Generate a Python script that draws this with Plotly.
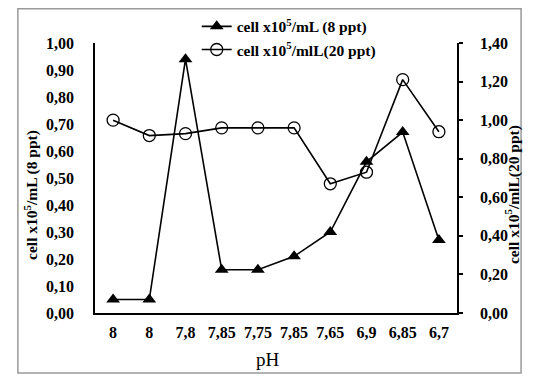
import plotly.graph_objects as go

ph_labels = ["8", "8", "7,8", "7,85", "7,75", "7,85", "7,65", "6,9", "6,85", "6,7"]
cells_8ppt = [0.05, 0.05, 0.94, 0.16, 0.16, 0.21, 0.30, 0.56, 0.67, 0.27]
cells_20ppt = [1.00, 0.92, 0.93, 0.96, 0.96, 0.96, 0.67, 0.73, 1.21, 0.94]
left_ticks = [0.0, 0.1, 0.2, 0.3, 0.4, 0.5, 0.6, 0.7, 0.8, 0.9, 1.0]
right_ticks = [0.0, 0.2, 0.4, 0.6, 0.8, 1.0, 1.2, 1.4]

xpos = list(range(len(ph_labels)))
FONT = "Liberation Serif"
FS = 16

def fmt(v):
    return "<b>%s</b>" % ("%.2f" % v).replace(".", ",")

fig = go.Figure()
fig.add_trace(go.Scatter(
    x=xpos, y=cells_8ppt, name="<b>cell x10<sup>5</sup>/mL (8 ppt)</b>",
    mode="lines+markers",
    line=dict(color="black", width=1.6),
    marker=dict(symbol="triangle-up", size=12, color="black"),
))
fig.add_trace(go.Scatter(
    x=xpos, y=cells_20ppt, name="<b>cell x10<sup>5</sup>/mlL(20 ppt)</b>",
    mode="lines+markers", yaxis="y2",
    line=dict(color="black", width=1.6),
    marker=dict(symbol="circle-open", size=12, color="black", line=dict(width=1.3)),
))

fig.update_layout(
    width=550, height=375,
    margin=dict(l=87, r=101, t=35, b=70, autoexpand=False),
    paper_bgcolor="white", plot_bgcolor="white",
    font=dict(family=FONT, size=FS, color="black"),
    showlegend=True,
    legend=dict(x=0.281, y=1.123, xanchor="left", yanchor="top",
                bgcolor="rgba(0,0,0,0)", font=dict(size=15.5, family=FONT),
                tracegroupgap=0, itemwidth=30),
    xaxis=dict(
        range=[-0.5, len(ph_labels) - 0.5], automargin=False,
        tickmode="array", tickvals=xpos, ticktext=["<b>%s</b>" % t for t in ph_labels],
        showline=True, linecolor="black", linewidth=1.5,
        showgrid=False, zeroline=False, ticks="",
        ticklabelstandoff=4,
    ),
    yaxis=dict(
        range=[0, 1.0], tickmode="array", tickvals=left_ticks, automargin=False,
        ticktext=[fmt(v) for v in left_ticks],
        showline=True, linecolor="black", linewidth=1.5,
        showgrid=False, zeroline=False, ticks="",
        ticklabelstandoff=16,
    ),
    yaxis2=dict(
        range=[0, 1.4], overlaying="y", side="right", tickmode="array", automargin=False,
        tickvals=right_ticks, ticktext=[fmt(v) for v in right_ticks],
        showline=True, linecolor="black", linewidth=1.5,
        showgrid=False, zeroline=False, ticks="outside", ticklen=4, tickwidth=1.5,
        tickcolor="black", ticklabelstandoff=14,
    ),
    annotations=[
        dict(text="<b>cell x10<sup>5</sup>/mL (8 ppt)</b>", xref="paper", yref="paper",
             x=-0.177, y=0.437, textangle=-90, showarrow=False,
             xanchor="center", yanchor="middle", font=dict(size=15.5, family=FONT)),
        dict(text="<b>cell x10<sup>5</sup>/mlL(20 ppt)</b>", xref="paper", yref="paper",
             x=1.152, y=0.437, textangle=-90, showarrow=False,
             xanchor="center", yanchor="middle", font=dict(size=15.5, family=FONT)),
        dict(text="pH", xref="paper", yref="paper", x=0.478, y=-0.174,
             showarrow=False, xanchor="center", yanchor="middle",
             font=dict(size=19, family=FONT)),
    ],
    shapes=[dict(type="rect", xref="paper", yref="paper",
                 x0=-0.213, x1=1.177, y0=-0.222, y1=1.127,
                 line=dict(color="#9a9a9a", width=1.5), layer="below")],
)

fig.write_html("out.html")
